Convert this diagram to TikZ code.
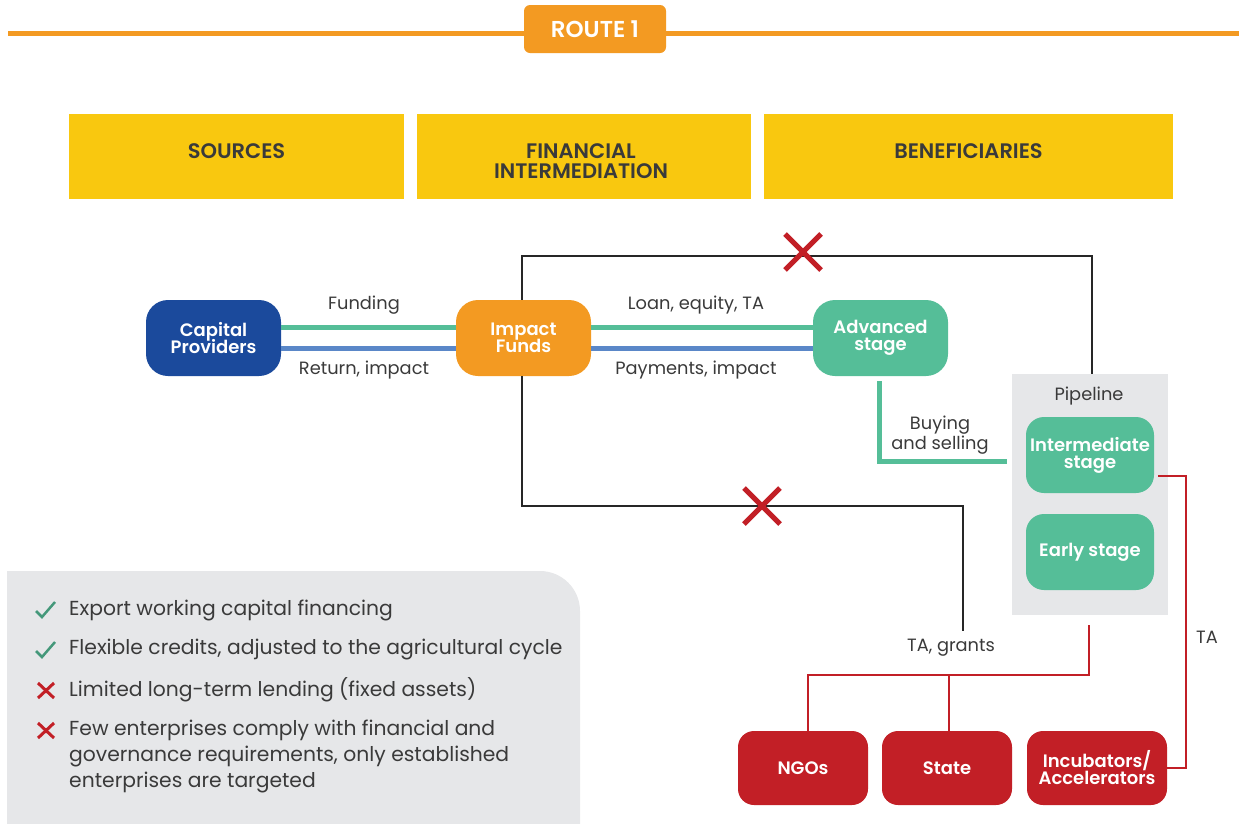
\documentclass[tikz,border=0pt]{standalone}
\usepackage{fontspec}
\setmainfont{Poppins}[BoldFont={Poppins SemiBold}]
\newfontfamily\heavyfont{Poppins}
\definecolor{rorange}{HTML}{F39A22}
\definecolor{ryellow}{HTML}{F9C80F}
\definecolor{rblue}{HTML}{1B4A9C}
\definecolor{rgreen}{HTML}{55BE98}
\definecolor{lblue}{HTML}{5A87C8}
\definecolor{rred}{HTML}{C21F26}
\definecolor{rgray}{HTML}{E6E7E9}
\definecolor{tdark}{HTML}{3A3A3A}
\tikzset{
  box/.style={rounded corners=22pt, minimum width=135pt, minimum height=76pt, text=white, align=center, inner sep=0pt, font=\fontsize{18}{19}\selectfont\bfseries},
  redbox/.style={box, fill=rred, minimum height=74pt, rounded corners=16pt},
  hdr/.style={fill=ryellow, minimum height=85pt, inner sep=0pt},
  hdrtext/.style={text=tdark, align=center, font=\fontsize{21}{21}\selectfont\bfseries},
  lbl/.style={text=tdark, font=\fontsize{17.8}{18}\selectfont, align=center, inner sep=0pt},
  gline/.style={rgreen, line width=5pt},
  bline/.style={lblue, line width=5pt},
  kline/.style={black!85, line width=2.5pt},
  rline/.style={rred, line width=2.5pt},
  legtext/.style={text=tdark, font=\fontsize{20.3}{26}\selectfont, anchor=west, inner sep=0pt, align=left},
}
\begin{document}
\begin{tikzpicture}[x=1pt,y=-1pt]
\useasboundingbox (0,0) rectangle (1239,823);
% top banner
\draw[rorange, line width=5pt] (8,33) -- (1239,33);
\node[fill=rorange, rounded corners=6pt, minimum width=142pt, minimum height=48pt, text=white, font=\fontsize{23}{24}\selectfont\bfseries] (route) at (595,29) {ROUTE 1};
% headers
\node[hdr, minimum width=335pt] (src) at (236.5,156.5) {};
\node[hdr, minimum width=334pt] (fin) at (584,156.5) {};
\node[hdr, minimum width=409pt] (ben) at (968.5,156.5) {};
\node[hdrtext] (srct) at (236.5,151) {SOURCES};
\node[hdrtext] (fint) at (581,161) {FINANCIAL\\[-1pt]INTERMEDIATION};
\node[hdrtext] (bent) at (968.5,151) {BENEFICIARIES};
% legend box
\fill[rgray, rounded corners=40pt] (7,571) rectangle (580,900);
\fill[rgray] (7,571) rectangle (100,823);
% pipeline
\node[fill=rgray, minimum width=156pt, minimum height=241pt, inner sep=0pt] (pipe) at (1090,494.5) {};
\node[lbl] (pipet) at (1089,396) {Pipeline};
% main nodes
\node[box, fill=rblue] (cap) at (213.5,338) {Capital\\[-2pt]Providers};
\node[box, fill=rorange] (imp) at (523.5,338) {Impact\\[-2pt]Funds};
\node[box, fill=rgreen] (adv) at (880.5,338) {Advanced\\[-2pt]stage};
\node[box, fill=rgreen, minimum width=128pt, rounded corners=18pt] (inter) at (1090,455) {Intermediate\\[-2pt]stage};
\node[box, fill=rgreen, minimum width=128pt, rounded corners=18pt] (early) at (1090,552) {Early stage};
\node[redbox, minimum width=130pt] (ngo) at (803,768) {NGOs};
\node[redbox, minimum width=130pt] (state) at (947,768) {State};
\node[redbox, minimum width=140pt] (incub) at (1097,768) {Incubators/\\[-2pt]Accelerators};
% green/blue flows
\draw[gline] ([yshift=11pt]cap.east) -- ([yshift=11pt]imp.west);
\draw[bline] ([yshift=-10pt]cap.east) -- ([yshift=-10pt]imp.west);
\draw[gline] ([yshift=11pt]imp.east) -- ([yshift=11pt]adv.west);
\draw[bline] ([yshift=-10pt]imp.east) -- ([yshift=-10pt]adv.west);
\node[lbl] (funding) at (364,305) {Funding};
\node[lbl] (ret) at (364,370) {Return, impact};
\node[lbl] (loan) at (696,305) {Loan, equity, TA};
\node[lbl] (pay) at (696,370) {Payments, impact};
% buying and selling
\draw[gline, shorten <=5pt, shorten >=5pt] ([xshift=-1.5pt]adv.south) |- ([yshift=33.5pt]pipe.west);
\node[lbl, font=\fontsize{17.8}{17}\selectfont] (buy) at (940,435) {Buying\\and selling};
% black connectors
\draw[kline] ([xshift=-1.5pt]imp.north) |- (1092,256) -- ([xshift=2pt]pipe.north);
\coordinate (bend) at (963,506);
\coordinate (tag) at (963,631);
\draw[kline] ([xshift=-1.5pt]imp.south) |- (bend) -- (tag);
% red crosses
\foreach \cx/\cy in {803/252, 762/506} {
  \draw[rred, line width=5pt] (\cx-18,\cy-18) -- (\cx+18,\cy+18) (\cx-18,\cy+18) -- (\cx+18,\cy-18);
}
% red connectors
\coordinate (taturn) at (1186,768);
\draw[rline] ([yshift=-21pt,xshift=4pt]inter.east) -| (taturn) -- (incub.east);
\node[lbl] (ta) at (1207,637) {TA};
\coordinate (gbar) at (808,675);
\draw[rline] ([yshift=-10pt,xshift=-1pt]pipe.south) |- (gbar) -- ([xshift=5pt]ngo.north);
\draw[rline] ([xshift=2pt]state.north) -- ([xshift=2pt]state.north |- gbar);
\node[lbl] (grants) at (951,648) {TA, grants};
% legend
\node[legtext] (l1) at (69,610) {Export working capital financing};
\node[legtext] (l2) at (69,650) {Flexible credits, adjusted to the agricultural cycle};
\node[legtext] (l3) at (69,690) {Limited long-term lending (fixed assets)};
\node[legtext] (l4) at (69,756) {Few enterprises comply with financial and\\governance requirements, only established\\enterprises are targeted};
\foreach \ty in {610,650} {
  \draw[rgreen!80!black, line width=2.5pt] (36,\ty+1) -- (42,\ty+7) -- (55,\ty-8);
}
\foreach \ty in {690,730} {
  \draw[rred, line width=3pt] (38,\ty-7) -- (54,\ty+8) (38,\ty+8) -- (54,\ty-7);
}
\end{tikzpicture}
\end{document}
